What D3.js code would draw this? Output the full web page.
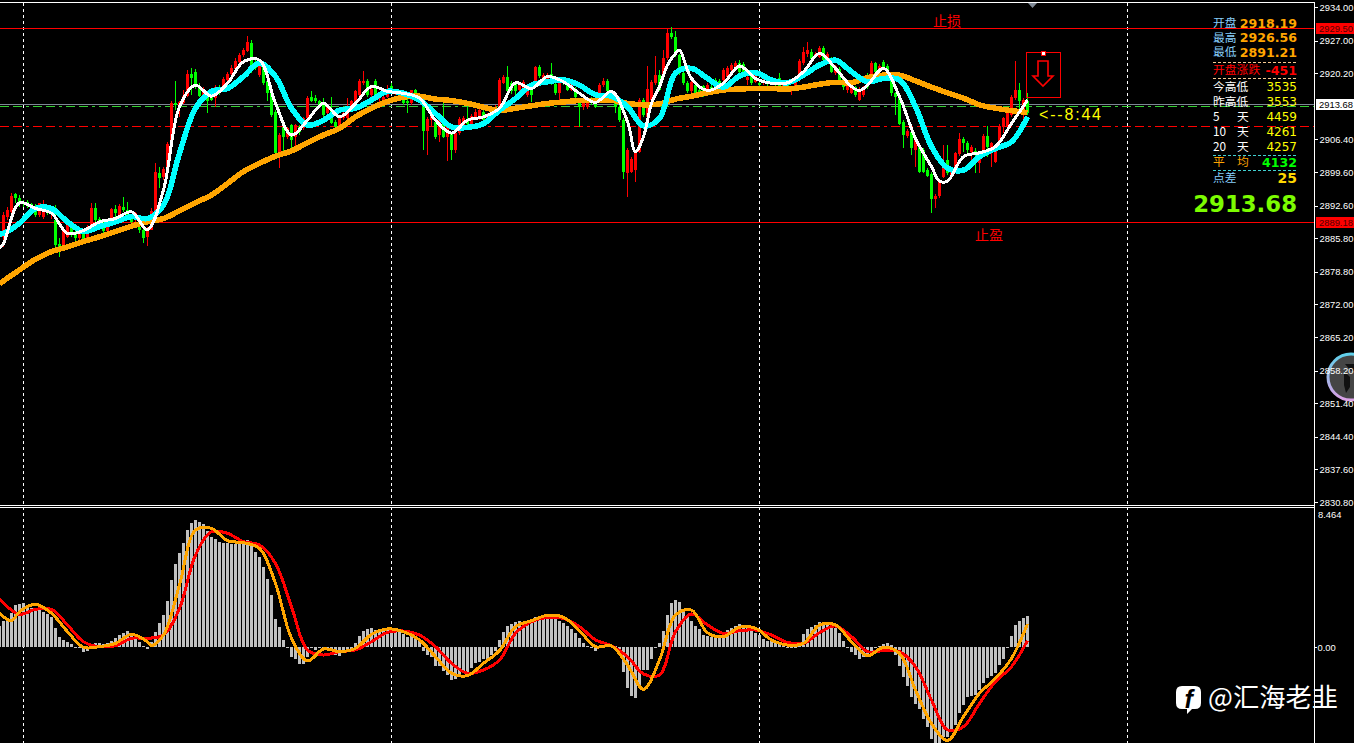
<!DOCTYPE html>
<html><head><meta charset="utf-8">
<style>html,body{margin:0;padding:0;background:#000;overflow:hidden}svg{display:block}</style>
<script src="https://cdnjs.cloudflare.com/ajax/libs/d3/7.8.5/d3.min.js"></script>
</head><body><svg id="c" width="1354" height="743"></svg>
<script>
const priceTicks=[2934.00,2927.00,2920.20,2906.40,2899.60,2892.60,2885.80,2878.80,2872.00,2865.20,2858.20,2851.40,2844.40,2837.60,2830.80];
const lastPrice=2913.68, stopLoss=2929.50, takeProfit=2889.18, midLevel=2909.1, greenLevel=2913.2;
const open=[2886.1,2890.3,2891.3,2895.0,2894.2,2893.4,2893.4,2892.9,2892.4,2890.6,
2890.3,2892.0,2891.0,2889.6,2884.6,2884.2,2886.1,2888.3,2886.8,2885.8,
2886.8,2885.8,2888.1,2892.0,2889.9,2889.2,2887.2,2888.9,2891.8,2889.6,
2892.4,2891.7,2889.9,2889.6,2888.2,2887.6,2886.0,2887.6,2891.5,2899.3,
2898.5,2900.0,2905.2,2913.9,2913.4,2913.9,2915.4,2920.0,2920.5,2917.4,
2915.7,2915.3,2915.3,2915.0,2917.4,2917.4,2918.8,2920.0,2921.0,2922.6,
2924.0,2924.9,2926.4,2922.2,2919.8,2921.9,2918.6,2916.3,2912.2,2903.5,
2909.0,2906.8,2909.4,2907.0,2909.0,2908.7,2910.8,2915.3,2915.0,2914.5,
2913.9,2911.8,2912.5,2910.1,2909.0,2910.8,2910.8,2912.5,2913.9,2915.7,
2918.1,2918.6,2915.7,2918.6,2915.0,2913.9,2915.3,2917.6,2916.0,2916.5,
2915.0,2914.4,2913.9,2916.6,2915.2,2913.9,2908.2,2910.4,2910.1,2907.3,
2909.7,2907.0,2907.7,2904.2,2907.7,2909.0,2910.6,2909.7,2911.1,2910.8,
2912.2,2910.8,2911.8,2911.5,2913.2,2918.2,2919.5,2918.2,2918.1,2916.7,
2916.7,2915.7,2918.1,2918.1,2921.4,2918.8,2918.1,2920.0,2917.9,2916.0,
2918.8,2917.7,2916.7,2917.0,2914.3,2913.1,2913.1,2915.0,2913.9,2914.3,
2917.7,2918.6,2915.0,2914.0,2913.1,2910.4,2899.3,2899.7,2900.0,2903.8,
2914.6,2911.1,2914.6,2918.1,2919.8,2919.8,2923.3,2928.5,2927.8,2924.0,
2920.2,2918.2,2916.4,2917.7,2916.7,2917.5,2916.7,2917.3,2918.8,2918.6,
2918.8,2919.5,2920.9,2921.2,2922.3,2922.1,2918.8,2919.6,2918.4,2918.1,
2918.1,2918.4,2918.2,2918.8,2919.1,2917.5,2918.1,2916.7,2917.3,2918.8,
2922.3,2924.3,2924.7,2923.6,2923.6,2925.5,2923.0,2923.3,2920.2,2921.0,
2919.1,2916.6,2916.1,2917.3,2914.6,2915.7,2919.8,2919.8,2922.3,2920.9,
2922.6,2921.7,2919.6,2916.0,2915.3,2910.1,2907.1,2908.0,2904.2,2904.9,
2904.2,2900.0,2899.2,2894.0,2894.5,2898.6,2902.2,2899.0,2900.7,2903.4,
2906.4,2905.7,2903.8,2904.0,2901.4,2904.2,2907.1,2903.5,2901.7,2905.6,
2909.0,2909.2,2911.5,2915.0,2916.8,2911.5,2914.3];
const close=[2890.6,2891.7,2894.7,2894.1,2893.4,2892.9,2892.7,2892.0,2890.6,2893.1,
2891.3,2891.3,2892.0,2884.4,2883.9,2887.5,2888.8,2886.8,2885.8,2887.2,
2885.6,2888.1,2892.0,2889.6,2889.0,2887.2,2888.9,2891.8,2891.0,2892.5,
2891.7,2889.9,2889.2,2891.0,2887.5,2885.8,2887.6,2891.5,2899.5,2898.4,
2900.2,2905.4,2913.9,2913.6,2914.1,2915.4,2920.0,2919.1,2917.4,2915.4,
2917.0,2914.4,2914.7,2917.4,2916.4,2918.9,2920.0,2921.2,2922.7,2924.0,
2925.0,2926.8,2921.6,2921.2,2921.6,2918.1,2916.0,2911.5,2903.5,2907.3,
2907.0,2908.7,2906.3,2909.4,2908.0,2910.8,2915.1,2914.4,2914.3,2913.6,
2911.5,2913.2,2909.9,2908.9,2910.8,2911.8,2912.5,2914.3,2916.4,2918.6,
2918.6,2915.7,2917.0,2915.7,2915.7,2915.3,2917.0,2916.4,2916.7,2915.7,
2914.0,2914.0,2916.6,2915.7,2915.7,2908.2,2910.6,2911.5,2906.8,2911.3,
2907.0,2909.0,2904.2,2907.7,2910.6,2910.8,2909.7,2911.3,2912.2,2912.5,
2910.4,2911.5,2911.1,2913.2,2918.8,2919.5,2916.4,2916.4,2916.4,2917.9,
2918.4,2917.0,2915.7,2921.4,2919.6,2919.8,2919.8,2918.1,2916.0,2918.1,
2918.1,2916.7,2918.1,2915.3,2913.2,2913.9,2914.3,2913.9,2913.2,2917.7,
2918.6,2916.4,2916.4,2913.1,2910.4,2899.7,2904.2,2902.3,2903.8,2914.6,
2911.5,2916.9,2918.4,2919.8,2916.7,2923.3,2928.5,2927.7,2924.0,2920.2,
2918.2,2916.4,2918.4,2915.3,2915.7,2915.7,2917.7,2916.6,2916.7,2917.7,
2920.9,2921.2,2921.9,2922.4,2920.5,2919.8,2919.5,2918.1,2919.8,2917.7,
2918.6,2918.0,2918.8,2917.7,2917.4,2918.1,2917.3,2917.3,2918.8,2922.8,
2924.7,2925.0,2923.1,2924.3,2925.5,2923.0,2924.3,2920.5,2921.6,2918.8,
2917.3,2917.5,2917.4,2915.7,2917.0,2917.3,2917.4,2922.3,2920.5,2921.7,
2921.2,2919.6,2916.0,2915.3,2909.7,2907.3,2908.2,2904.5,2906.6,2899.7,
2899.7,2898.8,2894.0,2894.6,2897.6,2900.4,2899.3,2900.2,2903.5,2906.4,
2905.6,2904.2,2904.9,2903.1,2902.9,2907.1,2904.9,2905.6,2904.9,2909.2,
2910.8,2911.8,2915.3,2916.8,2914.3,2914.6,2911.8];
const high=[2891.3,2892.4,2895.2,2895.3,2894.8,2893.8,2893.8,2893.2,2892.9,2893.2,
2893.8,2892.7,2892.5,2892.7,2885.8,2888.1,2889.2,2888.8,2887.4,2887.6,
2887.4,2888.5,2893.1,2893.1,2890.3,2889.6,2889.2,2892.0,2892.7,2892.9,
2894.4,2893.4,2890.3,2891.3,2888.8,2888.2,2888.2,2892.0,2901.4,2900.7,
2900.7,2905.9,2914.3,2918.6,2914.3,2916.6,2920.9,2921.2,2921.0,2918.1,
2917.4,2915.9,2915.7,2917.7,2917.7,2919.5,2920.5,2921.9,2923.3,2924.5,
2925.4,2928.0,2927.1,2923.3,2922.3,2922.6,2919.1,2917.0,2912.5,2907.7,
2909.4,2909.0,2909.7,2909.7,2909.4,2911.1,2915.4,2916.4,2915.7,2914.6,
2915.0,2913.6,2915.2,2910.4,2911.1,2912.4,2915.0,2914.6,2916.7,2918.9,
2920.7,2918.9,2917.5,2918.9,2916.1,2915.6,2917.7,2918.1,2917.0,2916.8,
2915.4,2915.0,2916.8,2917.0,2916.0,2914.3,2911.0,2912.0,2910.4,2911.6,
2913.9,2909.4,2908.0,2908.0,2911.0,2911.3,2913.2,2911.6,2912.7,2912.9,
2912.5,2911.8,2912.2,2913.6,2919.1,2919.8,2921.7,2918.6,2918.4,2918.2,
2918.8,2917.4,2918.4,2921.6,2921.9,2920.2,2920.2,2922.4,2918.2,2918.4,
2919.1,2918.1,2918.4,2917.4,2914.6,2914.3,2914.6,2915.3,2914.3,2918.1,
2919.1,2918.9,2916.7,2914.6,2913.6,2910.8,2904.5,2902.8,2904.2,2915.0,
2915.0,2921.6,2918.8,2923.8,2920.9,2925.0,2929.5,2929.9,2928.9,2924.3,
2920.5,2918.6,2918.8,2918.1,2917.0,2917.7,2918.1,2917.7,2919.1,2918.9,
2921.2,2921.6,2922.4,2922.7,2923.0,2922.5,2919.8,2920.0,2920.2,2918.4,
2918.9,2918.8,2919.1,2919.3,2920.2,2918.4,2918.4,2917.5,2919.1,2923.1,
2925.7,2926.6,2925.2,2924.7,2925.9,2925.9,2924.7,2923.6,2921.9,2921.4,
2919.5,2918.0,2917.7,2917.5,2917.4,2917.5,2920.2,2922.8,2922.6,2922.1,
2922.9,2922.1,2920.0,2916.3,2915.7,2910.4,2908.5,2908.4,2907.0,2905.2,
2904.5,2900.4,2899.5,2895.0,2897.9,2905.2,2905.2,2900.5,2903.8,2907.7,
2906.8,2906.1,2905.2,2904.5,2903.4,2907.5,2909.2,2905.9,2905.2,2909.6,
2911.1,2912.2,2915.7,2922.7,2918.1,2915.0,2916.1];
const low=[2884.0,2889.6,2889.6,2893.1,2892.4,2892.4,2892.0,2891.0,2890.3,2890.3,
2889.9,2890.6,2889.9,2883.3,2881.9,2884.0,2885.8,2886.1,2885.1,2885.4,
2885.3,2885.8,2887.9,2888.9,2887.9,2886.8,2886.8,2888.8,2890.3,2889.2,
2891.3,2889.6,2888.9,2889.2,2886.8,2884.7,2884.2,2887.5,2891.3,2896.2,
2897.9,2899.9,2904.9,2912.5,2911.1,2913.8,2915.3,2915.7,2917.0,2915.2,
2915.4,2912.0,2914.3,2913.1,2915.7,2917.0,2918.4,2919.6,2920.9,2922.4,
2923.6,2924.7,2920.2,2920.9,2919.5,2917.7,2914.3,2911.1,2903.4,2900.4,
2903.5,2906.4,2904.5,2904.9,2907.3,2908.4,2910.4,2914.1,2913.9,2913.1,
2911.1,2911.5,2909.6,2908.6,2908.7,2910.4,2910.6,2912.2,2913.6,2915.3,
2917.7,2915.2,2915.3,2915.3,2913.9,2913.6,2915.0,2916.0,2915.7,2915.2,
2913.6,2912.0,2913.6,2914.3,2914.7,2904.2,2903.1,2909.0,2906.4,2905.9,
2906.6,2901.8,2902.0,2903.5,2907.3,2908.7,2909.2,2909.4,2910.8,2910.4,
2910.1,2910.4,2910.8,2911.1,2912.9,2917.9,2916.0,2915.9,2915.7,2916.4,
2916.4,2915.2,2914.1,2917.7,2919.3,2918.4,2917.7,2917.7,2915.7,2913.9,
2917.7,2916.4,2916.4,2915.0,2908.9,2912.5,2912.7,2913.6,2912.9,2913.9,
2917.4,2916.0,2914.6,2911.8,2910.1,2898.1,2894.3,2899.3,2897.6,2903.5,
2911.1,2910.8,2914.3,2917.7,2916.4,2919.5,2923.0,2927.3,2923.6,2919.8,
2917.7,2916.0,2916.0,2915.0,2915.3,2915.3,2916.3,2916.0,2916.4,2917.4,
2918.4,2919.1,2920.5,2920.9,2920.0,2919.5,2917.7,2917.7,2918.1,2917.4,
2917.7,2917.5,2918.0,2917.5,2917.0,2917.3,2916.8,2915.7,2916.8,2918.4,
2921.9,2923.6,2922.8,2923.3,2923.3,2922.6,2922.6,2920.2,2919.8,2918.4,
2916.8,2916.1,2915.9,2915.3,2914.3,2915.3,2917.0,2919.5,2920.2,2920.5,
2920.9,2919.1,2915.5,2911.5,2909.4,2904.5,2906.6,2903.1,2900.7,2899.3,
2899.3,2898.6,2891.1,2892.0,2894.1,2898.3,2899.0,2898.6,2900.4,2902.9,
2903.8,2903.1,2902.1,2899.3,2899.3,2903.8,2902.8,2900.7,2901.4,2904.9,
2907.7,2908.9,2911.1,2914.6,2911.8,2909.0,2911.5];

const whiteBars=[-1,0,4,8,12,16,20,24,28,32,36,40,44,48,52,56,60,64,68,72,76,80,84,88,92,96,100,104,108,112,116,120,124,128,132,136,140,144,148,152,156,158,160,162,164,166,168,169,172,176,180,184,188,192,196,200,204,208,212,214,216,220,224,228,232,234,236,240,244,248,252,256];
const whiteLine=[2883.7,2884.7,2893.2,2892.0,2891.0,2886.8,2887.4,2889.2,2889.9,2891.3,2887.6,2895.9,2913.2,2917.7,2915.4,2918.1,2922.6,2922.9,2913.9,2907.3,2910.4,2913.9,2911.1,2913.9,2917.4,2916.4,2916.0,2915.0,2910.4,2907.7,2910.4,2911.1,2912.9,2918.2,2917.0,2919.5,2918.4,2916.0,2914.1,2916.4,2910.1,2903.8,2907.0,2913.9,2917.4,2921.9,2924.3,2925.0,2919.1,2916.6,2918.1,2921.7,2919.1,2918.1,2918.2,2920.5,2924.3,2921.2,2917.4,2916.6,2917.7,2921.2,2915.3,2906.6,2900.7,2897.7,2897.7,2902.8,2903.6,2904.9,2909.7,2914.6];
const maBars=[-1].concat(d3.range(0,257,4));
const cyanLine=[2886.7,2886.8,2888.9,2892.0,2892.0,2889.2,2887.2,2888.2,2889.2,2890.3,2889.9,2892.7,2903.5,2912.9,2916.4,2917.0,2919.5,2922.3,2919.5,2912.9,2909.4,2910.4,2912.5,2912.9,2914.6,2916.4,2916.0,2914.6,2911.8,2909.0,2908.9,2909.7,2912.5,2914.9,2917.7,2918.4,2918.8,2917.7,2915.7,2915.4,2913.2,2909.2,2910.8,2920.2,2921.2,2919.1,2917.3,2919.6,2920.3,2918.8,2918.2,2919.8,2921.9,2922.9,2920.5,2918.4,2919.1,2918.8,2913.2,2904.9,2900.4,2900.0,2902.8,2904.5,2905.9,2911.1];
const orangeLine=[2876.3,2876.9,2879.2,2881.4,2883.0,2884.0,2885.1,2886.1,2887.2,2888.3,2889.2,2889.9,2891.5,2893.2,2894.8,2897.2,2899.7,2901.4,2902.9,2904.0,2905.7,2907.3,2908.7,2911.1,2912.9,2914.3,2915.2,2915.4,2914.8,2914.5,2913.9,2913.1,2912.4,2912.9,2913.4,2913.9,2914.2,2914.5,2914.5,2914.6,2913.9,2913.6,2913.8,2914.8,2915.4,2916.1,2916.7,2916.9,2917.0,2917.0,2916.9,2917.3,2917.9,2918.3,2918.2,2919.3,2919.8,2919.8,2918.6,2917.3,2916.1,2915.0,2913.6,2912.9,2912.4,2912.0];

const macdHist=[1.28,1.60,1.60,2.09,2.56,2.62,2.70,2.56,2.35,2.25,2.41,2.11,2.01,1.85,1.14,0.63,0.43,0.28,0.18,-0.04,-0.06,
-0.28,-0.22,0.18,0.22,0.22,0.18,0.26,0.34,0.53,0.73,0.83,0.97,0.77,0.63,0.32,0.06,-0.14,0.32,0.93,1.44,
1.95,2.82,4.08,5.05,5.74,6.35,7.12,7.57,7.73,7.63,7.48,7.08,6.71,6.57,6.41,6.35,6.31,6.27,6.27,6.31,
6.31,6.51,6.19,5.80,5.50,4.89,4.12,3.16,1.70,1.24,0.43,-0.02,-0.59,-0.75,-1.01,-1.01,-0.59,-0.04,-0.18,-0.02,
-0.08,-0.04,-0.18,-0.49,-0.55,-0.39,-0.18,-0.18,0.26,0.67,0.97,1.08,1.16,1.03,1.08,1.08,1.08,1.08,0.99,0.89,
0.79,0.63,0.67,0.59,0.37,-0.24,-0.49,-0.63,-1.14,-1.14,-1.44,-1.71,-2.01,-1.95,-1.64,-1.60,-1.56,-1.26,-0.99,-0.89,
-0.75,-0.71,-0.49,-0.22,0.43,0.93,1.28,1.40,1.50,1.58,1.48,1.48,1.60,1.81,1.91,1.95,2.01,1.85,1.68,1.60,
1.44,1.28,1.08,0.87,0.53,0.22,0.06,-0.02,-0.22,-0.04,0.06,0.10,0.10,0.06,-0.39,-1.50,-2.47,-2.96,-3.08,-2.31,
-1.40,-1.40,-0.73,-0.08,0.22,0.99,1.95,2.66,2.86,2.72,2.25,1.95,1.60,1.28,1.08,0.73,0.67,0.59,0.63,0.67,
0.79,1.03,1.14,1.28,1.40,1.28,1.14,0.99,0.87,0.73,0.47,0.39,0.39,0.26,0.22,0.12,-0.02,-0.04,0.02,0.26,
0.79,1.08,1.20,1.34,1.50,1.52,1.48,1.40,1.14,0.83,0.37,-0.02,-0.28,-0.49,-0.71,-0.59,-0.59,-0.49,-0.08,0.06,
0.18,0.22,0.10,-0.49,-1.16,-1.85,-2.37,-3.02,-3.47,-3.79,-4.36,-4.85,-5.62,-5.84,-5.84,-5.50,-5.46,-5.05,-4.75,-4.04,
-3.53,-3.06,-2.98,-2.92,-2.62,-2.17,-1.91,-1.77,-1.60,-1.10,-0.75,-0.08,0.67,1.34,1.58,1.78,1.89];
const macdRed=[2.96,2.66,1.99,2.29,2.29,1.34,0.32,0.02,0.08,0.53,0.53,0.73,2.35,5.60,7.02,6.92,6.41,6.21,5.09,2.45,-0.18,-0.49,-0.28,-0.18,0.32,0.89,0.97,0.73,0.02,-0.99,-1.60,-1.40,-0.79,0.83,1.54,1.81,1.74,1.24,0.43,0.08,-0.59,-1.64,-1.70,0.93,2.01,1.34,0.83,0.99,1.03,0.73,0.28,0.22,0.87,1.28,0.63,-0.28,-0.22,-0.28,-1.20,-3.23,-5.05,-4.85,-3.43,-2.11,-1.20,0.39];
const orangeBars=[-1,2,4,8,12,16,20,24,28,32,36,37,40,44,48,52,56,60,64,68,72,76,80,84,88,92,96,100,104,108,112,116,120,124].concat(d3.range(128,257,4));
const macdOrange=[2.05,1.60,2.15,2.60,2.05,0.93,-0.02,0.02,0.22,0.77,0.32,0.08,0.73,3.77,7.12,7.22,6.47,6.35,6.00,3.87,0.53,-0.85,-0.12,-0.28,-0.08,0.77,1.10,0.93,0.43,-0.59,-1.60,-1.74,-0.99,-0.22,1.24,1.60,1.93,1.81,0.99,0.02,0.06,-1.10,-2.58,-0.79,1.95,2.25,0.87,0.63,1.20,1.14,0.43,0.12,0.22,1.34,1.34,0.32,-0.53,-0.02,-0.39,-2.62,-4.65,-5.70,-4.24,-2.82,-1.91,-0.69,1.40];

const statLabels=["开盘","最高","最低","开盘涨跌","今高低","昨高低","5","10","20","平","点差"];
const statValues=["2918.19","2926.56","2891.21","-451","3535","3553","4459","4261","4257","4132","25"];

const svg=d3.select("#c");
const CJK='"Noto Sans CJK SC","Noto Sans",sans-serif';
const AXF='"Liberation Sans",Arial,sans-serif';
const AXS=9.4;
const x=d3.scaleLinear().domain([0,256]).range([3,1027]);
const y=d3.scaleLinear().domain([2934,2830.8]).range([7,502]);
const ym=d3.scaleLinear().domain([8.464,0]).range([508,647]);
const xi=i=>Math.round(x(i));

const defs=svg.append("defs");
defs.append("clipPath").attr("id","clipMain").append("rect").attr("x",0).attr("y",3).attr("width",1314).attr("height",501);
defs.append("clipPath").attr("id","clipMacd").append("rect").attr("x",0).attr("y",508).attr("width",1314).attr("height",235);
const grad=defs.append("linearGradient").attr("id","ring").attr("x1",0).attr("y1",0).attr("x2",0).attr("y2",1);
grad.append("stop").attr("offset",0).attr("stop-color","#5fd0ea");
grad.append("stop").attr("offset",1).attr("stop-color","#dca0e6");

svg.append("rect").attr("width",1354).attr("height",743).attr("fill","#000");

// vertical grid
svg.append("g").selectAll("line").data([23.5,391.5,759.5,1127.5]).join("line")
 .attr("x1",d=>d).attr("x2",d=>d).attr("y1",3).attr("y2",743)
 .attr("stroke","#fff").attr("stroke-width",1).attr("stroke-dasharray","3 3");

// levels
const lv=svg.append("g").attr("shape-rendering","crispEdges");
const rowOf=p=>Math.floor(y(p)+.1);
function hline(p,col,dash){const yy=rowOf(p)+.5;lv.append("line").attr("x1",0).attr("x2",1314).attr("y1",yy).attr("y2",yy).attr("stroke",col).attr("stroke-dasharray",dash||null);}
hline(lastPrice,"#7f8796");hline(greenLevel,"#32cd32","9 4 9 4 3 4");hline(midLevel,"#ff0000","9 4 9 4 3 4");
hline(stopLoss,"#ff0000");hline(takeProfit,"#ff0000");

// candles
const main=svg.append("g").attr("clip-path","url(#clipMain)");
const cg=main.append("g").attr("shape-rendering","crispEdges");
const bars=d3.range(open.length);
const col=i=>close[i]>=open[i]?"#ff0000":"#00ff00";
cg.selectAll(".w").data(bars).join("rect").attr("x",xi).attr("width",1)
 .attr("y",i=>y(high[i])).attr("height",i=>y(low[i])-y(high[i])).attr("fill",col);
cg.selectAll(".b").data(bars).join("rect").attr("x",i=>xi(i)-1).attr("width",3)
 .attr("y",i=>y(Math.max(open[i],close[i]))).attr("height",i=>Math.max(1,Math.abs(y(open[i])-y(close[i])))).attr("fill",col);

// moving averages
const line=(xs,yS)=>d3.line().x((d,k)=>x(xs[k])+.5).y(d=>yS(d)).curve(d3.curveCatmullRom.alpha(.5));
function ma(vals,xs,c,w){main.append("path").attr("d",line(xs,y)(vals)).attr("fill","none").attr("stroke",c).attr("stroke-width",w).attr("shape-rendering","crispEdges");}
ma(orangeLine,maBars,"#ffa500",5.5);
ma(cyanLine,maBars,"#00ffff",5.5);
ma(whiteLine,whiteBars,"#ffffff",3);

// macd
const mg=svg.append("g").attr("clip-path","url(#clipMacd)");
mg.append("g").attr("shape-rendering","crispEdges").selectAll("rect").data(macdHist).join("rect")
 .attr("x",(d,i)=>xi(i-1)-1).attr("width",3)
 .attr("y",d=>Math.min(ym(d),ym(0))).attr("height",d=>Math.max(1,Math.abs(ym(d)-ym(0))))
 .attr("fill","#c0c0c0");
mg.append("path").attr("d",line(maBars,ym)(macdRed)).attr("fill","none").attr("stroke","#ff0000").attr("stroke-width",3).attr("shape-rendering","crispEdges");
mg.append("path").attr("d",line(orangeBars,ym)(macdOrange)).attr("fill","none").attr("stroke","#ffa500").attr("stroke-width",3).attr("shape-rendering","crispEdges");

// frames
const fr=svg.append("g").attr("shape-rendering","crispEdges").attr("stroke","#fff");
fr.append("line").attr("x1",0).attr("x2",1315).attr("y1",2.5).attr("y2",2.5);
fr.append("line").attr("x1",0).attr("x2",1315).attr("y1",505.5).attr("y2",505.5);
fr.append("line").attr("x1",0).attr("x2",1315).attr("y1",507.5).attr("y2",507.5);
fr.append("line").attr("x1",1314.5).attr("x2",1314.5).attr("y1",2).attr("y2",743);

// floating round badge (under the axis text)
const bd=svg.append("g").attr("transform","translate(1351,377)");
bd.append("circle").attr("r",23).attr("fill","#4c4c4c").attr("fill-opacity",.9).attr("stroke","url(#ring)").attr("stroke-width",3);
bd.append("path").attr("d","M-6,-13 L0,-6 L3,-6 L3,-13Z M-7,-6 L-1,0 L-1,10 L-5,16 L-7,8Z M3,0 L3,18").attr("fill","#111");

// axes
const axFmt=d3.format(".2f");
const ax=svg.append("g").attr("transform","translate(1314.5,0)").call(d3.axisRight(y).tickValues(priceTicks).tickSize(3).tickPadding(2).tickFormat(axFmt));
ax.select(".domain").remove();
ax.selectAll("line").attr("stroke","#fff").attr("shape-rendering","crispEdges");
ax.selectAll("text").attr("fill","#fff").attr("font-family",AXF).attr("font-size",AXS);
const ax2=svg.append("g").attr("transform","translate(1314.5,0)").call(d3.axisRight(ym).tickValues([0]).tickSize(2).tickPadding(1).tickFormat(axFmt));
ax2.select(".domain").remove();
ax2.selectAll("line").attr("stroke","#fff").attr("shape-rendering","crispEdges");
ax2.selectAll("text").attr("fill","#fff").attr("font-family",AXF).attr("font-size",AXS);
svg.append("text").attr("x",1318).attr("y",518).attr("fill","#fff").attr("font-family",AXF).attr("font-size",AXS).text("8.464");

// price tags
function tag(p,bg,fg){const yy=rowOf(p);
 svg.append("rect").attr("x",1316).attr("y",yy-5).attr("width",38).attr("height",11).attr("fill",bg).attr("shape-rendering","crispEdges");
 svg.append("text").attr("x",1319).attr("y",yy+4).attr("fill",fg).attr("font-family",AXF).attr("font-size",AXS).text(axFmt(p));}
tag(stopLoss,"#ff0000","#500000");tag(takeProfit,"#ff0000","#500000");tag(lastPrice,"#ffffff","#000");

// top triangle
svg.append("path").attr("d",d3.line()([[1028,3],[1037,3],[1032.5,8]])+"Z").attr("fill","#808a96");

// level captions
svg.append("text").attr("x",933).attr("y",26).attr("fill","#ff0000").attr("font-family",CJK).attr("font-weight",400).attr("font-size",14).text("止损");
svg.append("text").attr("x",975).attr("y",240).attr("fill","#ff0000").attr("font-family",CJK).attr("font-weight",400).attr("font-size",14).text("止盈");

// arrow object
const ag=svg.append("g").attr("fill","none").attr("stroke","#ff0000");
ag.append("rect").attr("x",1026.5).attr("y",52.5).attr("width",34).attr("height",45).attr("shape-rendering","crispEdges");
ag.append("path").attr("stroke-width",1.6).attr("d",d3.line()([[1038,61],[1048,61],[1048,76],[1053,76],[1043,86],[1033,76],[1038,76]])+"Z");
svg.append("rect").attr("x",1041).attr("y",51).attr("width",4).attr("height",4).attr("fill","#fff").attr("stroke","#ff0000").attr("shape-rendering","crispEdges");
svg.append("text").attr("x",1039).attr("y",119.5).attr("fill","#ffff00").attr("font-family",AXF).attr("font-size",16).attr("textLength",62).text("<--8:44");

// stats panel
const rowY=[23,37.5,52,70,87,102,117,132,147,162,178];
const labColor=["#87cefa","#87cefa","#87cefa","#ff0000","#fff","#fff","#fff","#fff","#fff","#ffa500","#87cefa"];
const valColor=["#ffa500","#ffa500","#ffa500","#ff0000","#ffff00","#ffff00","#ffff00","#ffff00","#ffff00","#00ff00","#ffd700"];
const valBold=[1,1,1,1,0,0,0,0,0,1,1];
const pn=svg.append("g");
statLabels.forEach((t,i)=>{
 pn.append("text").attr("x",1213).attr("y",rowY[i]).attr("dy","0.36em").attr("fill",labColor[i]).attr("font-family",CJK).attr("font-size",11.8).text(t);
 if(i>=6&&i<=8) pn.append("text").attr("x",1237).attr("y",rowY[i]).attr("dy","0.36em").attr("fill","#fff").attr("font-family",CJK).attr("font-size",11.8).text("天");
 if(i==9) pn.append("text").attr("x",1237).attr("y",rowY[i]).attr("dy","0.36em").attr("fill",labColor[i]).attr("font-family",CJK).attr("font-size",11.8).text("均");
 pn.append("text").attr("x",1297).attr("y",rowY[i]).attr("dy","0.36em").attr("text-anchor","end")
  .attr("fill",valColor[i]).attr("font-family",'"DejaVu Sans",sans-serif').attr("font-weight",valBold[i]?700:400)
  .attr("font-size",i==10?14:(valBold[i]?12.6:12)).text(statValues[i]);
});
[[62,"#f5c890"],[78,"#f5c890"],[155,"#40d0d0"],[170,"#40d0d0"]].forEach(d=>{
 pn.append("line").attr("x1",1213).attr("x2",1297).attr("y1",d[0]+.5).attr("y2",d[0]+.5).attr("stroke",d[1]).attr("stroke-dasharray","3 2").attr("shape-rendering","crispEdges");
});
pn.append("text").attr("x",1297).attr("y",204).attr("dy","0.36em").attr("text-anchor","end").attr("fill","#7cfc00").attr("font-family",'"DejaVu Sans",sans-serif').attr("font-weight",700).attr("font-size",22.8).text(axFmt(lastPrice));

// watermark
const wm=svg.append("g").attr("fill","#fff");
wm.append("path").attr("d","M1182,686 H1195 Q1201,686 1201,692 V703 Q1201,709 1195,709 H1192 L1187,714 L1187,709 H1182 Q1176,709 1176,703 V692 Q1176,686 1182,686Z");
wm.append("text").attr("x",1184.5).attr("y",708).attr("fill","#000").attr("font-family",AXF).attr("font-weight",700).attr("font-style","italic").attr("font-size",25).text("f");
wm.append("text").attr("x",1208).attr("y",707).attr("font-family",CJK).attr("font-weight",400).attr("font-size",26.3).text("@汇海老韭");
</script></body></html>
